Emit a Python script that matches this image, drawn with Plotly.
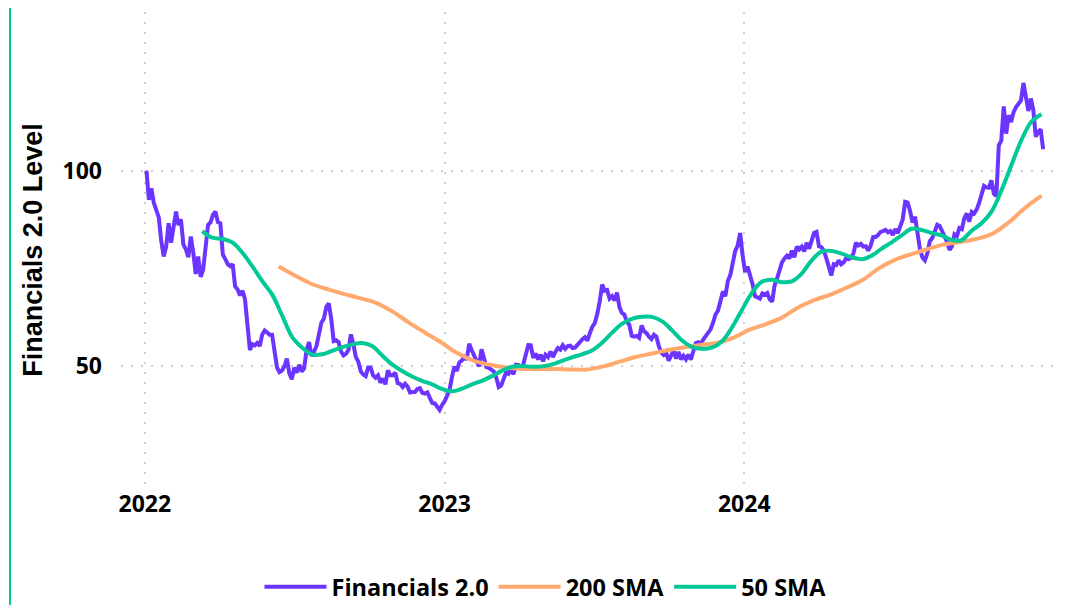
import pandas as pd
import plotly.graph_objects as go

# Financials 2.0 index level, one reading every 3 days from 2022-01-03
price_start = "2022-01-03"
price = [
    100, 92.5, 95.5, 91.7, 89.9, 88, 82, 78, 80.5, 86.5,
    81.5, 86, 89.5, 86, 87.5, 81, 79.8, 77.8, 83.1, 79,
    73.5, 78, 72.8, 74.5, 81.4, 86.1, 86.7, 88.7, 89.5, 86.8,
    86.5, 78.5, 77.3, 76, 75.5, 76, 70.3, 69.5, 68, 69.2,
    67, 59, 54, 55.5, 55.2, 55.8, 55, 58, 59, 58.5,
    57.9, 57.9, 53.5, 49.5, 48.3, 48.7, 49.8, 51.8, 48, 46.5,
    49.5, 48.2, 50.2, 48.5, 49.3, 54, 56, 52.5, 53.5, 55,
    58, 61, 62, 65, 66, 62, 56.3, 56.5, 56, 53.6,
    52.6, 53, 54, 58, 55.5, 52.2, 51, 48.5, 47.7, 47.3,
    49.5, 49.5, 47.5, 46.9, 47.5, 45.6, 46.7, 45.2, 48.8, 47.5,
    47.5, 48.2, 45.5, 45.3, 44.5, 45.3, 44.6, 43.1, 43.2, 43.2,
    44, 44.2, 43, 42.8, 43.1, 42, 40.4, 40.3, 39.6, 38.6,
    39.9, 40.8, 42.2, 43.7, 47, 49.7, 48.6, 50.8, 51.3, 52.2,
    51.5, 55.6, 54, 52.5, 51.5, 49.8, 54.2, 52, 49.6, 49.4,
    49, 48.5, 47, 44.5, 44.9, 46.4, 48.3, 47.9, 48.9, 47.8,
    50.2, 50.1, 49, 50.4, 52.8, 55.3, 55.2, 52, 53.1, 51.6,
    52.8, 51.1, 52.8, 52.2, 53.6, 52.2, 53.5, 54.5, 54.1, 55.2,
    54.3, 55, 55.1, 54.5, 54.6, 55.4, 56.2, 56.8, 57.3, 56.4,
    58.3, 60, 60.9, 63.2, 66.5, 70.8, 69.2, 69.4, 67.2, 67.8,
    66.7, 68.7, 65, 63.5, 63.1, 61.3, 60.5, 57.6, 57.4, 57.6,
    57.1, 60.3, 58.8, 58.3, 57.4, 56.8, 57.9, 57.4, 55, 53.3,
    52.7, 53.2, 51.3, 52.7, 53.9, 51.8, 53.5, 51.6, 52.5, 51.6,
    52.8, 51.5, 53.4, 55.8, 56, 55.5, 56.7, 57.7, 58.4, 59.3,
    61, 63.1, 64.1, 66.4, 69, 67.8, 71.7, 73.2, 76.5, 79.4,
    80.8, 84, 78.2, 74, 75.4, 73.5, 71, 67.8, 67.4, 67.2,
    68.5, 68.2, 68.6, 67, 66.4, 70.6, 72.4, 74.5, 76.5, 77.5,
    78.2, 77.5, 79.5, 77.8, 80.5, 79.8, 80.5, 79.3, 81.5, 80,
    82.5, 84, 84.3, 80.6, 80.4, 79.4, 77.5, 75.4, 73.1, 76,
    75.8, 77, 76, 76.5, 77.5, 77.3, 77.6, 78.8, 81.5, 80.8,
    81.2, 80.5, 80.6, 79.5, 80.8, 83, 83, 83.5, 84.3, 84.5,
    84.8, 84.2, 84.5, 83.5, 85, 84, 85.5, 87.5, 92, 91.8,
    89.6, 86.7, 88.2, 84, 79.8, 77.7, 77, 78.8, 81.9, 82.7,
    84.8, 86.1, 85.8, 84.5, 82.9, 81.7, 79.7, 80.6, 83.7, 83.2,
    85.3, 85, 87.8, 89, 86.9, 89.4, 89, 90, 91.7, 94,
    96.1, 95.7, 95.6, 97.5, 94.1, 93.5, 106.5, 107.7, 116.5, 109.5,
    114.2, 112.5, 115, 116.3, 117, 118, 122.5, 118, 115.3, 118.5,
    115.6, 108.7, 110, 110.6, 105.5,
]

# 200-day simple moving average, evenly spaced readings
sma200_start, sma200_end = "2022-06-13", "2024-12-28"
sma200 = [
    75.4, 73.1, 71, 69.6, 68.4, 67.3, 66.1, 63.9, 61.1, 58.5,
    56, 53.2, 51.3, 50.2, 49.5, 49.2, 49.1, 49.1, 49, 49,
    49.8, 51, 52.2, 53.1, 54, 54.7, 55.3, 55.8, 57.1, 59.2,
    60.6, 62.3, 64.9, 66.8, 68.2, 70, 72, 75, 77.2, 78.6,
    79.9, 81.1, 81.7, 82.5, 83.9, 86.8, 90.5, 93.6,
]

# 50-day simple moving average, evenly spaced readings
sma50_start, sma50_end = "2022-03-12", "2024-12-28"
sma50 = [
    84.5, 82.8, 82.5, 81.6, 79, 75.5, 71.7, 68.2, 62.8, 57.3,
    54.6, 52.8, 52.9, 53.8, 54.7, 55.4, 55.8, 55, 52.6, 50.3,
    48.6, 47.2, 46.1, 45.2, 44, 43.4, 44.1, 45.2, 46.1, 47.3,
    48.7, 49.7, 49.9, 49.7, 49.8, 50.3, 51.2, 52.1, 52.9, 53.9,
    55.8, 58.4, 60.7, 62, 62.5, 62.5, 61.4, 59.1, 56.5, 54.8,
    54.3, 54.6, 56.2, 59.7, 64.2, 68.6, 71.5, 72, 71.4, 71.6,
    73.6, 77, 79.3, 79.4, 78.7, 77.8, 77.3, 78.2, 80, 81.6,
    83.4, 85.1, 84.8, 84, 83.4, 82.2, 82.2, 84.6, 86.5, 89.5,
    95, 101.5, 107.9, 112.6, 114.5,
]

year_ticks = ["2022-01-01", "2023-01-01", "2024-01-01"]
year_labels = ["2022", "2023", "2024"]

PURPLE = "#6b34ff"
ORANGE = "#ffa96e"
GREEN = "#00c896"
GRID = "#cdcdcd"

price_dates = pd.date_range(price_start, periods=len(price), freq="3D")
sma200_dates = pd.date_range(sma200_start, sma200_end, periods=len(sma200))
sma50_dates = pd.date_range(sma50_start, sma50_end, periods=len(sma50))

fig = go.Figure()
fig.add_trace(go.Scatter(x=price_dates, y=price, mode="lines", name="Financials 2.0",
                         line=dict(color=PURPLE, width=4)))
fig.add_trace(go.Scatter(x=sma200_dates, y=sma200, mode="lines", name="200 SMA",
                         line=dict(color=ORANGE, width=4, shape="spline")))
fig.add_trace(go.Scatter(x=sma50_dates, y=sma50, mode="lines", name="50 SMA",
                         line=dict(color=GREEN, width=4, shape="spline")))

# thin accent bar on the left edge of the card
fig.add_shape(type="line", xref="paper", yref="paper", x0=-0.1191, x1=-0.1191, y0=-0.3, y1=1.05,
              line=dict(color=GREEN, width=2))

tick_font = dict(family="Open Sans", size=23, color="#000000", weight="bold")
fig.update_layout(
    width=1065,
    height=597,
    margin=dict(l=113, r=20, t=4, b=117),
    paper_bgcolor="white",
    plot_bgcolor="white",
    showlegend=True,
    legend=dict(
        orientation="h",
        x=0.1486, xanchor="left",
        yref="container",
        y=0.03, yanchor="middle",
        font=dict(family="Open Sans", size=23.5, color="#000000", weight="bold"),
        itemwidth=62,
        bgcolor="rgba(0,0,0,0)",
    ),
    xaxis=dict(
        type="date",
        range=["2021-12-03", "2025-01-11"],
        tickvals=year_ticks,
        ticktext=year_labels,
        tickfont=tick_font,
        showgrid=True,
        gridcolor=GRID,
        gridwidth=2,
        griddash="2px,8px",
        zeroline=False,
        showline=False,
        ticks="",
        ticklabelstandoff=0,
        automargin=False,
    ),
    yaxis=dict(
        range=[18.6, 140.7],
        tickvals=[50, 100],
        tickfont=tick_font,
        showgrid=True,
        gridcolor=GRID,
        gridwidth=2,
        griddash="2px,8px",
        zeroline=False,
        showline=False,
        ticks="",
        ticklabelstandoff=18,
        automargin=False,
        title=dict(text="Financials 2.0 Level", standoff=12,
                   font=dict(family="Liberation Sans", size=27, color="#000000", weight="bold")),
    ),
)

fig.write_html("out.html")
